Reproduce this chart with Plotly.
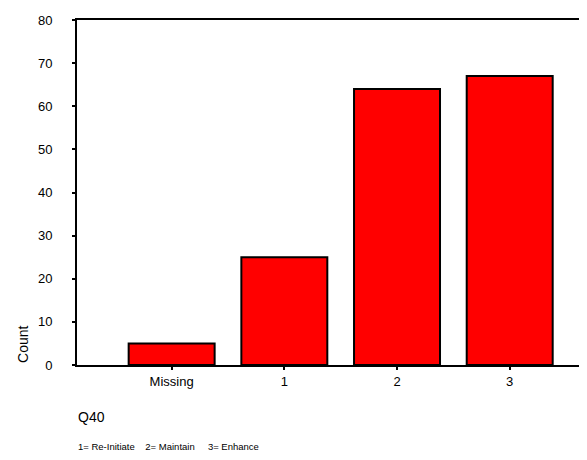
import plotly.graph_objects as go

categories = ["Missing", "1", "2", "3"]
counts = [5, 25, 64, 67]
y_ticks = [0, 10, 20, 30, 40, 50, 60, 70, 80]
x_title = "Q40"
y_title = "Count"
footnote = "1= Re-Initiate\u00a0\u00a0\u00a0 2= Maintain\u00a0\u00a0\u00a0\u00a0 3= Enhance"

FONT = "Liberation Sans, Arial, sans-serif"

fig = go.Figure()
fig.add_trace(go.Bar(
    x=list(range(len(categories))), y=counts,
    width=0.763,
    marker=dict(color="#ff0000", line=dict(color="black", width=2)),
))

fig.update_layout(
    width=587, height=460,
    margin=dict(l=69, r=0, t=12, b=103),
    paper_bgcolor="white", plot_bgcolor="white",
    showlegend=False,
    font=dict(family=FONT, color="black", size=13),
    xaxis=dict(
        range=[-0.84, 3.757],
        tickmode="array", tickvals=list(range(len(categories))), ticktext=categories,
        showline=True, linecolor="black", linewidth=2, mirror=True,
        ticks="outside", ticklen=3, tickwidth=2, tickcolor="black",
        showgrid=False, zeroline=False,
        tickfont=dict(size=13, family=FONT),
    ),
    yaxis=dict(
        range=[0, 80],
        tickmode="array", tickvals=y_ticks,
        showline=True, linecolor="black", linewidth=2,
        ticks="outside", ticklen=3, tickwidth=2, tickcolor="black",
        showgrid=False, zeroline=False,
        tickfont=dict(size=13, family=FONT),
        ticklabelstandoff=17,
    ),
    annotations=[
        dict(text=y_title, xref="paper", yref="paper", x=-0.103, y=0.06,
             xanchor="center", yanchor="middle", textangle=-90, showarrow=False,
             font=dict(size=14, family=FONT)),
        dict(text=x_title, xref="paper", yref="paper", x=-0.002, y=-0.152,
             xanchor="left", yanchor="middle", showarrow=False,
             font=dict(size=14, family=FONT)),
        dict(text=footnote, xref="paper", yref="paper", x=-0.002, y=-0.235,
             xanchor="left", yanchor="middle", showarrow=False,
             font=dict(size=9.5, family=FONT)),
    ],
)

fig.write_html("out.html")
